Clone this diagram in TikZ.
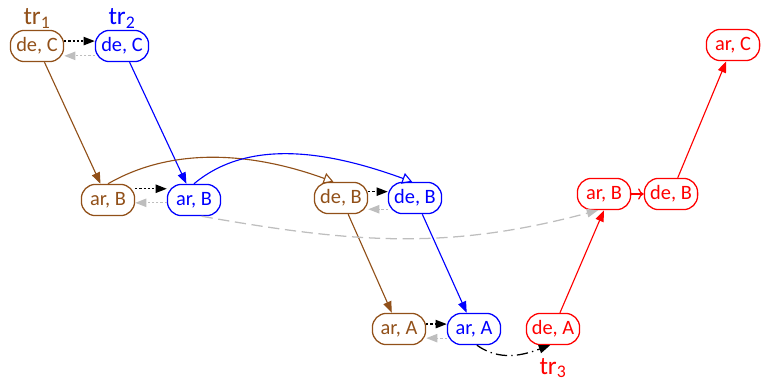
\documentclass[tikz,border=0pt]{standalone}
\usepackage{fontspec}
\setmainfont{Carlito}
\usetikzlibrary{arrows.meta,positioning}
\definecolor{trbrown}{RGB}{145,80,25}
\definecolor{trgray}{RGB}{190,190,190}
\begin{document}
\begin{tikzpicture}[x=0.025cm,y=-0.025cm,
  st/.style={draw=#1,text=#1,line width=0.9pt,rounded corners=10pt,minimum width=1.33cm,minimum height=0.78cm,inner sep=1pt,font=\fontsize{14.5}{16}\selectfont},
  lbl/.style={text=#1,font=\fontsize{18}{20}\selectfont,inner sep=1pt},
  flow/.style={draw=#1,line width=0.8pt,-{Triangle[length=8pt,width=6pt]}},
  ord/.style={line width=0.9pt,dash pattern=on 1.5pt off 1.5pt,-{Triangle[length=8pt,width=6pt]}},
  back/.style={ord,trgray},
  cause/.style={draw=#1,line width=0.8pt,-{Triangle[open,length=7pt,width=8pt]}}]
\useasboundingbox (0,0) rectangle (761,382);
\node[st=trbrown] (dC1) at (37,46) {de, C};
\node[st=blue] (dC2) at (122,46) {de, C};
\node[st=trbrown] (aB1) at (108,200) {ar, B};
\node[st=blue] (aB2) at (194,200) {ar, B};
\node[st=trbrown] (dB1) at (341,198) {de, B};
\node[st=blue] (dB2) at (415,198) {de, B};
\node[st=trbrown] (aA1) at (399,329) {ar, A};
\node[st=blue] (aA2) at (474,329) {ar, A};
\node[st=red] (dA3) at (553,329) {de, A};
\node[st=red] (aB3) at (604,194) {ar, B};
\node[st=red] (dB3) at (671,194) {de, B};
\node[st=red] (aC3) at (733,45) {ar, C};
\node[lbl=trbrown,above=0pt of dC1] (tr1) {tr\textsubscript{1}};
\node[lbl=blue,above=0pt of dC2] (tr2) {tr\textsubscript{2}};
\node[lbl=red,below=8pt of dA3] (tr3) {tr\textsubscript{3}};
\draw[ord] ([yshift=3.5pt]dC1.east) -- ([yshift=3.5pt]dC2.west);
\draw[back] ([yshift=-7pt]dC2.west) -- ([yshift=-7pt]dC1.east);
\draw[flow=trbrown] (dC1) -- (aB1);
\draw[flow=blue] (dC2) -- (aB2);
\draw[ord] ([yshift=8pt]aB1.east) -- ([yshift=8pt]aB2.west);
\draw[back] ([yshift=-2pt]aB2.west) -- ([yshift=-2pt]aB1.east);
\draw[cause=trbrown] (aB1.north) to[out=30,in=160,looseness=0.9] (dB1.115);
\draw[cause=blue] (aB2.north) to[out=40,in=160,looseness=0.9] (dB2.100);
\draw[ord] ([yshift=4.5pt]dB1.east) -- ([yshift=4.5pt]dB2.west);
\draw[back] ([yshift=-8pt]dB2.west) -- ([yshift=-8pt]dB1.east);
\draw[flow=trbrown] (dB1) -- (aA1);
\draw[flow=blue] (dB2) -- (aA2);
\draw[ord] ([yshift=3.5pt]aA1.east) -- ([yshift=3.5pt]aA2.west);
\draw[back] ([yshift=-6.5pt]aA2.west) -- ([yshift=-6.5pt]aA1.east);
\draw[line width=0.9pt,dash pattern=on 8pt off 3pt on 1pt off 3pt,-{Triangle[length=8pt,width=6pt]}] (aA2.-80) to[out=-35,in=200] (dA3.-100);
\draw[flow=red] (dA3) -- (aB3.south);
\draw[red,line width=0.9pt,-{To[length=4pt,width=8pt]}] (aB3) -- (dB3);
\draw[flow=red] (dB3) -- (aC3);
\draw[trgray,line width=0.9pt,dash pattern=on 8pt off 4pt,-{Triangle[length=8pt,width=6pt]}] (aB2.-65) to[out=-10,in=195] (aB3.-110);
\end{tikzpicture}
\end{document}
